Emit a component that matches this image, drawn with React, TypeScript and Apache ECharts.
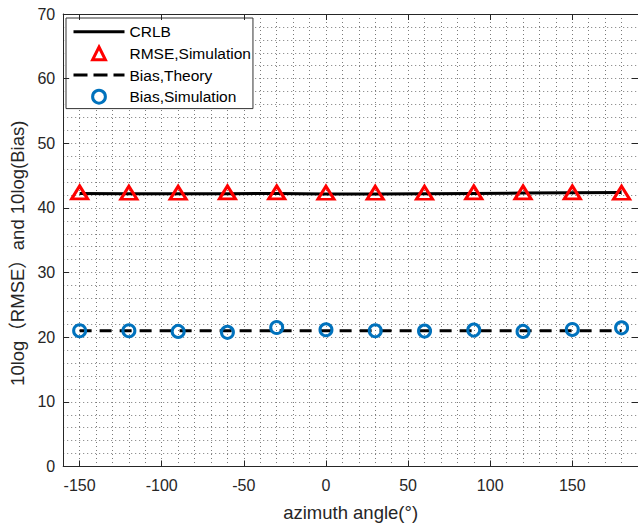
import React, { useEffect, useRef } from 'react';
import * as echarts from 'echarts';

const angles = [-150, -120, -90, -60, -30, 0, 30, 60, 90, 120, 150, 180];
const crlb = [42.25, 42.2, 42.2, 42.2, 42.25, 42.15, 42.15, 42.2, 42.25, 42.3, 42.35, 42.4];
const rmseSim = [42.4, 42.35, 42.35, 42.4, 42.4, 42.35, 42.35, 42.35, 42.4, 42.4, 42.4, 42.35];
const biasTheory = [21.0, 21.0, 21.0, 21.0, 21.0, 21.0, 21.0, 21.0, 21.0, 21.0, 21.0, 21.0];
const biasSim = [21.0, 21.0, 20.9, 20.75, 21.5, 21.15, 21.0, 20.95, 21.1, 20.9, 21.2, 21.45];
const xTicks = [-150, -100, -50, 0, 50, 100, 150];
const seriesNames = ['CRLB', 'RMSE,Simulation', 'Bias,Theory', 'Bias,Simulation'];

const FONT = 'Arial, "Liberation Sans", Helvetica, "Noto Sans CJK SC", sans-serif';
const AXIS_COLOR = '#262626';
const GRID_LINE = { show: true, lineStyle: { color: '#7a7a7a', width: 1, type: [1, 3] as any } };

const pairs = (ys: number[]) => angles.map((a, i) => [a, ys[i]]);

export default function App() {
  const ref = useRef<HTMLDivElement>(null);
  useEffect(() => {
    const chart = echarts.init(ref.current!, undefined, { renderer: 'svg' });
    const boxAxisX = (position: string, withLabels: boolean) => ({
      type: 'value',
      min: -160,
      max: 190,
      interval: 10,
      position,
      axisLine: { show: true, onZero: false, lineStyle: { color: AXIS_COLOR, width: 1 } },
      axisTick: { show: true, inside: true, length: 6, customValues: xTicks, lineStyle: { color: AXIS_COLOR } },
      axisLabel: withLabels
        ? { show: true, customValues: xTicks, margin: 11, fontFamily: FONT, fontSize: 16, color: AXIS_COLOR }
        : { show: false },
      splitLine: { show: false },
      z: 5,
    });
    const boxAxisY = (position: string, withLabels: boolean) => ({
      type: 'value',
      min: 0,
      max: 70,
      interval: 10,
      position,
      axisLine: { show: true, onZero: false, lineStyle: { color: AXIS_COLOR, width: 1 } },
      axisTick: { show: true, inside: true, length: 6, lineStyle: { color: AXIS_COLOR } },
      axisLabel: withLabels
        ? { show: true, margin: 8, fontFamily: FONT, fontSize: 16, color: AXIS_COLOR }
        : { show: false },
      splitLine: { show: false },
      z: 5,
    });
    const option: any = {
      animation: false,
      backgroundColor: '#fff',
      grid: { left: 61, right: -2, top: 14, bottom: 58, containLabel: false },
      xAxis: [
        {
          ...boxAxisX('bottom', true),
          name: 'azimuth angle(°)',
          nameLocation: 'middle',
          nameGap: 37,
          nameTextStyle: { fontFamily: FONT, fontSize: 18.5, color: AXIS_COLOR },
        },
        boxAxisX('top', false),
        {
          type: 'value',
          min: -160,
          max: 190,
          interval: 10,
          position: 'bottom',
          axisLine: { show: false },
          axisTick: { show: false },
          axisLabel: { show: false },
          splitLine: GRID_LINE,
          z: 0,
        },
      ],
      yAxis: [
        {
          ...boxAxisY('left', true),
          name: '10log（RMSE）and 10log(Bias)',
          nameLocation: 'middle',
          nameRotate: 90,
          nameGap: 34,
          nameTextStyle: { fontFamily: FONT, fontSize: 18.5, color: AXIS_COLOR, padding: [0, 26, 0, 0] },
        },
        boxAxisY('right', false),
        {
          type: 'value',
          min: 0,
          max: 70,
          interval: 2,
          position: 'left',
          axisLine: { show: false },
          axisTick: { show: false },
          axisLabel: { show: false },
          splitLine: GRID_LINE,
          z: 0,
        },
      ],
      legend: {
        orient: 'vertical',
        left: 66,
        top: 18,
        padding: [6, 2, 4, 6],
        itemWidth: 51,
        itemHeight: 16,
        itemGap: 6,
        backgroundColor: '#fff',
        borderColor: '#333',
        borderWidth: 1,
        borderRadius: 0,
        selectedMode: false,
        textStyle: { fontFamily: FONT, fontSize: 15.5, color: '#000' },
        data: [
          { name: seriesNames[0], itemStyle: { opacity: 0 }, lineStyle: { color: '#000', width: 3, type: 'solid', opacity: 1 } },
          { name: seriesNames[1], itemStyle: { color: 'rgba(0,0,0,0)', borderColor: '#ff0000', borderWidth: 3, opacity: 1 }, lineStyle: { width: 0, opacity: 0 } },
          { name: seriesNames[2], itemStyle: { opacity: 0 }, lineStyle: { color: '#000', width: 3, type: [14, 6], opacity: 1 } },
          { name: seriesNames[3], itemStyle: { color: 'rgba(0,0,0,0)', borderColor: '#0072BD', borderWidth: 3, opacity: 1 }, lineStyle: { width: 0, opacity: 0 } },
        ],
      },
      series: [
        {
          name: seriesNames[0],
          type: 'line',
          data: pairs(crlb),
          symbol: 'none',
          lineStyle: { color: '#000', width: 3 },
          itemStyle: { color: '#000' },
          z: 2,
        },
        {
          name: seriesNames[1],
          type: 'line',
          data: pairs(rmseSim),
          symbol: 'triangle',
          symbolSize: [16, 13],
          showSymbol: true,
          showAllSymbol: true,
          lineStyle: { width: 0, opacity: 0 },
          itemStyle: { color: 'rgba(0,0,0,0)', borderColor: '#ff0000', borderWidth: 3 },
          z: 3,
        },
        {
          name: seriesNames[2],
          type: 'line',
          data: pairs(biasTheory),
          symbol: 'none',
          lineStyle: { color: '#000', width: 3, type: [12, 8] },
          itemStyle: { color: '#000' },
          z: 2,
        },
        {
          name: seriesNames[3],
          type: 'line',
          data: pairs(biasSim),
          symbol: 'circle',
          symbolSize: 12,
          showSymbol: true,
          showAllSymbol: true,
          lineStyle: { width: 0, opacity: 0 },
          itemStyle: { color: 'rgba(0,0,0,0)', borderColor: '#0072BD', borderWidth: 3 },
          z: 3,
        },
      ],
    };
    chart.setOption(option);
    return () => chart.dispose();
  }, []);
  return (
    <div
      ref={ref}
      style={{ position: 'fixed', left: 0, top: 0, width: 638, height: 527, background: '#fff' }}
    />
  );
}
